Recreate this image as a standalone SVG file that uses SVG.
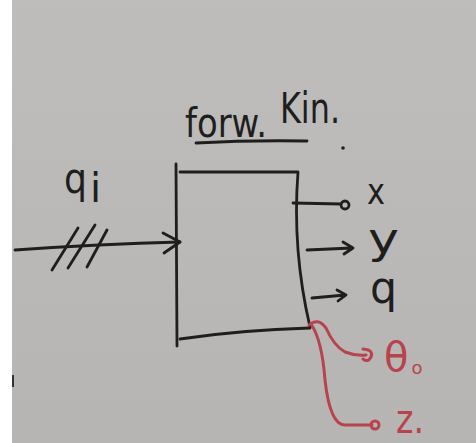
<svg xmlns="http://www.w3.org/2000/svg" width="476" height="443" viewBox="0 0 476 443">
<defs>
<linearGradient id="bg" x1="0" y1="0" x2="0" y2="1">
<stop offset="0" stop-color="#bebdbb"/>
<stop offset="1" stop-color="#b6b5b3"/>
</linearGradient>
<style>
.ink{fill:none;stroke:#1e1e1e;stroke-width:2.8;stroke-linecap:round;stroke-linejoin:round}
.red{fill:none;stroke:#b9434c;stroke-width:3;stroke-linecap:round;stroke-linejoin:round}
.t{font-family:"DejaVu Sans","Liberation Sans",sans-serif;fill:#1e1e1e}
.tr{font-family:"DejaVu Sans","Liberation Sans",sans-serif;fill:#b9434c}
</style>
</defs>
<rect x="0" y="0" width="476" height="443" fill="#ffffff"/>
<rect x="12" y="0" width="464" height="443" fill="url(#bg)"/>
<rect x="12" y="375" width="2" height="12" fill="#333"/>

<g id="title">
<text class="t" x="185" y="137" font-size="40" textLength="82" lengthAdjust="spacingAndGlyphs">forw.</text>
<text class="t" x="280" y="123" font-size="42" textLength="60" lengthAdjust="spacingAndGlyphs">Kin.</text>
<path class="ink" d="M196 143 Q250 140 307 141"/>
<circle cx="343" cy="148" r="1.8" fill="#1e1e1e"/>
</g>

<g id="block">
<path class="ink" d="M176 164 L177 346"/>
<path class="ink" d="M180 172 L298 172 Q292 250 310 327"/>
<path class="ink" d="M180 339 Q240 330 310 328"/>
</g>

<g id="input-label">
<text class="t" x="64" y="193" font-size="42" textLength="23" lengthAdjust="spacingAndGlyphs">q</text>
<text class="t" x="90" y="202" font-size="40">i</text>
</g>

<g id="out-x"><text class="t" x="367" y="204" font-size="36" textLength="18" lengthAdjust="spacingAndGlyphs">x</text></g>
<g id="out-y"><text class="t" x="368" y="253" font-size="42" textLength="31" lengthAdjust="spacingAndGlyphs">y</text></g>
<g id="out-q"><text class="t" x="370" y="303" font-size="44" textLength="27" lengthAdjust="spacingAndGlyphs">q</text></g>
<g id="out-theta"><text class="tr" x="384" y="371" font-size="40">θ<tspan font-size="18" dx="3" dy="3">o</tspan></text></g>
<g id="out-z"><text class="tr" x="396" y="433" font-size="40" textLength="28" lengthAdjust="spacingAndGlyphs">z.</text></g>

<g id="connectors">
<path class="ink" d="M15 250 Q100 244 180 242"/>
<path class="ink" d="M163 233 L180 242 L164 253"/>
<path class="ink" d="M52 270 L78 228 M68 268 L95 225 M87 267 L107 230"/>
<path class="ink" d="M293 203 L341 204"/>
<circle class="ink" cx="345" cy="205" r="4"/>
<path class="ink" d="M307 250 L352 248 M343 242 L353 248 L344 254"/>
<path class="ink" d="M312 298 L345 295 M337 290 L346 295 L338 301"/>
<path class="red" d="M309 325 Q318 317 326 328 Q334 346 345 352 Q355 356 366 355"/>
<path class="red" d="M363 349 Q374 350 371 357 Q368 363 363 359"/>
<path class="red" d="M311 324 Q322 340 325 380 Q330 425 345 425 L372 425"/>
<circle class="red" cx="375" cy="425" r="4"/>
</g>
</svg>
